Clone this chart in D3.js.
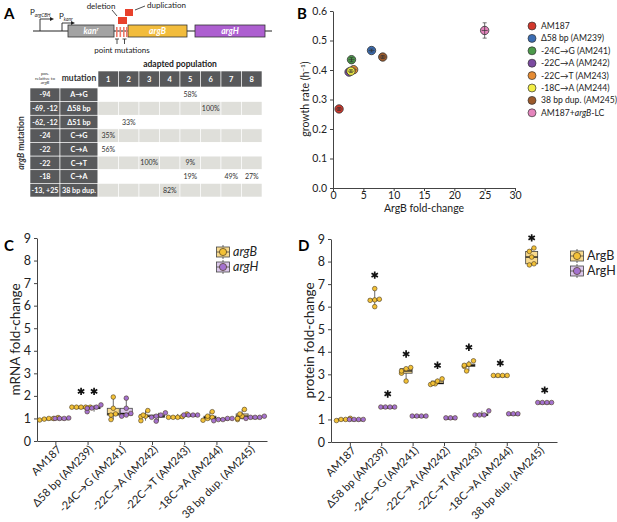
<!DOCTYPE html>
<html><head><meta charset="utf-8">
<script src="https://cdn.jsdelivr.net/npm/d3@7"></script>
<style>body{margin:0;background:#fff} svg{font-family:Lato,"Open Sans",sans-serif}</style>
</head><body><svg id="fig" width="617" height="522"></svg>
<script>
// ---------- DATA ----------
// Panel A table
const tablePositions = ["-94", "-69, -12", "-62, -12", "-24", "-22", "-22", "-18", "-13, +25"];
const tableMutations = ["A→G", "Δ58 bp", "Δ51 bp", "C→G", "C→A", "C→T", "C→A", "38 bp dup."];
const tablePopulations = ["1", "2", "3", "4", "5", "6", "7", "8"];
const tableFreqs = [
  [null, null, null, null, "58%", null, null, null],
  [null, null, null, null, null, "100%", null, null],
  [null, "33%", null, null, null, null, null, null],
  ["35%", null, null, null, null, null, null, null],
  ["56%", null, null, null, null, null, null, null],
  [null, null, "100%", null, "9%", null, null, null],
  [null, null, null, null, "19%", null, "49%", "27%"],
  [null, null, null, "82%", null, null, null, null]
];
// Panel B
const strainNames = ["AM187", "Δ58 bp (AM239)", "-24C→G (AM241)", "-22C→A (AM242)", "-22C→T (AM243)", "-18C→A (AM244)", "38 bp dup. (AM245)", "AM187+argB-LC"];
const strainColors = ["#d2382c", "#3b6db3", "#4c9a4a", "#7b4aa0", "#e58b33", "#f2ee45", "#9c5a2b", "#e585bd"];
const argBFold = [1.0, 6.35, 3.05, 2.65, 3.4, 2.95, 8.2, 25.0];
const growthRate = [0.268, 0.466, 0.435, 0.393, 0.401, 0.396, 0.444, 0.534];
const growthErr = [0.005, 0.005, 0.007, 0.005, 0.005, 0.005, 0.005, 0.026];
const xTicksB = [0, 5, 10, 15, 20, 25, 30];
const yTicksB = [0, 0.1, 0.2, 0.3, 0.4, 0.5, 0.6];
// Panels C and D
const categories = ["AM187", "Δ58 bp (AM239)", "-24C→G (AM241)", "-22C→A (AM242)", "-22C→T (AM243)", "-18C→A (AM244)", "38 bp dup. (AM245)"];
const foldTicks = [0, 1, 2, 3, 4, 5, 6, 7, 8, 9];
const mrnaArgB = [
  [0.93, 0.97, 1.0, 1.0, 1.04],
  [1.5, 1.5, 1.5, 1.5, 1.5],
  [0.95, 1.15, 1.2, 1.45, 1.95],
  [0.9, 1.08, 1.1, 1.15, 1.35],
  [1.05, 1.05, 1.05, 1.08, 1.2],
  [0.92, 1.0, 1.05, 1.1, 1.3],
  [0.95, 1.0, 1.1, 1.2, 1.4]
];
const mrnaArgH = [
  [1.0, 1.0, 1.0, 1.02],
  [1.3, 1.45, 1.46, 1.5, 1.6],
  [1.1, 1.15, 1.22, 1.45, 1.9],
  [0.88, 1.05, 1.1, 1.15, 1.25],
  [1.15, 1.15, 1.15, 1.15],
  [0.9, 0.95, 0.95, 1.0, 1.0],
  [1.0, 1.05, 1.05, 1.05, 1.1]
];
const mrnaStarB = [null, 2.2, null, null, null, null, null];
const mrnaStarH = [null, 2.2, null, null, null, null, null];
const protArgB = [
  [0.95, 1.0, 1.0, 1.05],
  [6.0, 6.28, 6.3, 6.33, 6.8],
  [2.7, 3.05, 3.15, 3.25, 3.3],
  [2.55, 2.58, 2.6, 2.7, 2.8],
  [3.15, 3.35, 3.4, 3.45, 3.6],
  [2.95, 2.95, 2.95, 2.95],
  [7.85, 7.9, 8.2, 8.45, 8.6]
];
const protArgH = [
  [1.0, 1.0, 1.0, 1.0],
  [1.55, 1.55, 1.55, 1.55],
  [1.15, 1.15, 1.15, 1.15],
  [1.07, 1.07, 1.07],
  [1.2, 1.2, 1.2, 1.38],
  [1.25, 1.25, 1.25],
  [1.75, 1.75, 1.75, 1.75]
];
const protStarB = [null, 7.4, 3.9, 3.4, 4.2, 3.5, 9.05];
const protStarH = [null, 2.13, null, null, null, null, 2.3];

// ---------- STYLE ----------
const C_B = {pt: "#f3c137", box: "#f8da8e"};
const C_H = {pt: "#a472cf", box: "#dcc8ec"};
const axisCol = "#444";
const FONT = 'Lato,"Open Sans",sans-serif';

const svg = d3.select("#fig");

function panelLabel(t, x, y) {
  svg.append("text").attr("x", x).attr("y", y).attr("font-size", 15).attr("font-weight", 700).text(t);
}
panelLabel("A", 4, 19);
panelLabel("B", 297, 19);
panelLabel("C", 4, 251);
panelLabel("D", 298, 251);

// ---------- PANEL A: schematic ----------
const gA = svg.append("g");
gA.append("line").attr("x1", 33).attr("x2", 272).attr("y1", 31).attr("y2", 31).attr("stroke", "#222").attr("stroke-width", 1);
function promoter(x, top, len, tx, ty, lab, sub) {
  gA.append("path").attr("d", `M${x},31V${top}H${x + len}`).attr("fill", "none").attr("stroke", "#222").attr("stroke-width", 0.9);
  gA.append("path").attr("d", `M${x + len},${top - 2}L${x + len + 4},${top}L${x + len},${top + 2}Z`).attr("fill", "#222");
  const t = gA.append("text").attr("x", tx).attr("y", ty).attr("font-size", 8).attr("fill", "#222");
  t.append("tspan").text(lab);
  t.append("tspan").attr("font-size", 4.8).attr("dy", 1.5).attr("font-style", "italic").text(sub);
}
promoter(40, 19, 10, 30, 15, "P", "argCBH");
promoter(62, 23, 9, 59, 19, "P", "kanr");
function gene(x1, x2, fill, label, sup) {
  gA.append("rect").attr("x", x1).attr("y", 25).attr("width", x2 - x1).attr("height", 12).attr("fill", fill).attr("stroke", "#333").attr("stroke-width", 0.8);
  const t = gA.append("text").attr("x", (x1 + x2) / 2).attr("y", 34).attr("text-anchor", "middle").attr("font-size", 8.5).attr("font-style", "italic").attr("font-weight", 700).attr("fill", "#fff");
  t.append("tspan").text(label);
  if (sup) t.append("tspan").attr("font-size", 5).attr("dy", -3).text(sup);
}
gene(68, 114, "#a3a3a3", "kan", "r");
gene(128, 187, "#f2bc3c", "argB");
gene(195, 265, "#ad5fd0", "argH");
[116, 119.5, 123, 126].forEach(x => gA.append("rect").attr("x", x).attr("y", 27).attr("width", 1.6).attr("height", 10).attr("fill", "#ef7a6a"));
gA.append("rect").attr("x", 118).attr("y", 17).attr("width", 9).attr("height", 7).attr("fill", "#e8412c");
gA.append("rect").attr("x", 125).attr("y", 9).attr("width", 8).attr("height", 7).attr("fill", "#e8412c");
[117, 124.5].forEach(x => gA.append("path").attr("d", `M${x - 2},39H${x + 2}M${x},39V44`).attr("stroke", "#222").attr("stroke-width", 0.8));
gA.append("text").attr("x", 122).attr("y", 53).attr("text-anchor", "middle").attr("font-size", 8).attr("fill", "#222").text("point mutations");
gA.append("text").attr("x", 101).attr("y", 9).attr("text-anchor", "middle").attr("font-size", 8).attr("fill", "#222").text("deletion");
gA.append("path").attr("d", "M112,10L117,16").attr("stroke", "#222").attr("stroke-width", 0.8);
gA.append("text").attr("x", 147).attr("y", 8).attr("font-size", 8).attr("fill", "#222").text("duplication");
gA.append("path").attr("d", "M145,6L135,10").attr("stroke", "#222").attr("stroke-width", 0.8);

// ---------- PANEL A: table ----------
const colX = d3.scaleBand().domain(tablePopulations).range([98, 262]);
const rowY = d3.scaleBand().domain(d3.range(tablePositions.length)).range([88, 197]);
const gT = svg.append("g");
gT.append("text").attr("x", 180).attr("y", 67).attr("text-anchor", "middle").attr("font-size", 8.5).attr("font-weight", 700).attr("fill", "#222").text("adapted population");
tablePopulations.forEach(p => {
  gT.append("rect").attr("x", colX(p)).attr("y", 71).attr("width", colX.bandwidth()).attr("height", 16).attr("fill", "#58595b").attr("stroke", "#fff").attr("stroke-width", 0.6);
  gT.append("text").attr("x", colX(p) + colX.bandwidth() / 2).attr("y", 82).attr("text-anchor", "middle").attr("font-size", 7.5).attr("font-weight", 700).attr("fill", "#fff").text(p);
});
const hp = gT.append("text").attr("x", 45).attr("y", 75).attr("text-anchor", "middle").attr("font-size", 4.5).attr("fill", "#333");
hp.append("tspan").attr("x", 45).attr("dy", 0).text("pos.");
hp.append("tspan").attr("x", 45).attr("dy", 4.5).text("relative to");
hp.append("tspan").attr("x", 45).attr("dy", 4.5).attr("font-style", "italic").text("argB");
gT.append("text").attr("x", 79).attr("y", 81).attr("text-anchor", "middle").attr("font-size", 8.5).attr("font-weight", 700).attr("fill", "#333").text("mutation");
tablePositions.forEach((pos, i) => {
  const y = rowY(i), h = rowY.bandwidth();
  gT.append("rect").attr("x", 30).attr("y", y).attr("width", 30).attr("height", h).attr("fill", "#58595b").attr("stroke", "#fff").attr("stroke-width", 0.6);
  gT.append("rect").attr("x", 60).attr("y", y).attr("width", 38).attr("height", h).attr("fill", "#58595b").attr("stroke", "#fff").attr("stroke-width", 0.6);
  gT.append("text").attr("x", 45).attr("y", y + h / 2 + 2.6).attr("text-anchor", "middle").attr("font-size", 7.2).attr("font-weight", 700).attr("fill", "#fff").text(pos);
  gT.append("text").attr("x", 79).attr("y", y + h / 2 + 2.6).attr("text-anchor", "middle").attr("font-size", 7.2).attr("font-weight", 700).attr("fill", "#fff").text(tableMutations[i]);
  tablePopulations.forEach((p, j) => {
    gT.append("rect").attr("x", colX(p)).attr("y", y).attr("width", colX.bandwidth()).attr("height", h).attr("fill", i % 2 ? "#dfdfda" : "#fff").attr("stroke", "#fff").attr("stroke-width", 0.6);
    const v = tableFreqs[i][j];
    if (v) gT.append("text").attr("x", colX(p) + colX.bandwidth() / 2).attr("y", y + h / 2 + 2.5).attr("text-anchor", "middle").attr("font-size", 7).attr("fill", "#333").text(v);
  });
});
const ml = gT.append("text").attr("transform", "translate(24,143) rotate(-90)").attr("text-anchor", "middle").attr("font-size", 8.5).attr("font-weight", 700).attr("fill", "#333");
ml.append("tspan").attr("font-style", "italic").text("argB");
ml.append("tspan").text(" mutation");

// ---------- PANEL B ----------
const xB = d3.scaleLinear().domain([0, 30]).range([333, 515]);
const yB = d3.scaleLinear().domain([0, 0.6]).range([188, 11]);
const gB = svg.append("g");
function styleAxis(g, fs) {
  g.select(".domain").attr("stroke", axisCol);
  g.selectAll(".tick line").attr("stroke", axisCol);
  g.selectAll("text").attr("font-size", fs).attr("fill", "#222").attr("font-family", FONT);
}
gB.append("g").attr("transform", "translate(0,188)").call(d3.axisBottom(xB).tickValues(xTicksB).tickSize(3).tickSizeOuter(0)).call(g => styleAxis(g, 10.5)).selectAll("text").attr("y", 4);
gB.append("g").attr("transform", "translate(333,0)").call(d3.axisLeft(yB).tickValues(yTicksB).tickFormat(d3.format(".1f")).tickSize(3).tickSizeOuter(0)).call(g => styleAxis(g, 10.5));
gB.append("text").attr("x", 424).attr("y", 212).attr("text-anchor", "middle").attr("font-size", 10.5).attr("fill", "#222").text("ArgB fold-change");
const yl = gB.append("text").attr("transform", "translate(309,99) rotate(-90)").attr("text-anchor", "middle").attr("font-size", 10.5).attr("fill", "#222");
yl.append("tspan").text("growth rate (h");
yl.append("tspan").attr("font-size", 6.5).attr("dy", -4).text("−1");
yl.append("tspan").attr("dy", 4).text(")");
strainNames.forEach((n, i) => {
  const cx = xB(argBFold[i]), cy = yB(growthRate[i]);
  gB.append("circle").attr("cx", cx).attr("cy", cy).attr("r", 4.2).attr("fill", strainColors[i]).attr("stroke", "#333").attr("stroke-width", 0.8);
  const e1 = yB(growthRate[i] - growthErr[i]), e2 = yB(growthRate[i] + growthErr[i]);
  gB.append("path").attr("d", `M${cx},${e1}V${e2}M${cx - 2},${e1}H${cx + 2}M${cx - 2},${e2}H${cx + 2}M${cx - 3},${cy}H${cx + 3}`).attr("stroke", "#333").attr("stroke-width", 0.7).attr("fill", "none");
});
strainNames.forEach((n, i) => {
  const y = 26 + i * 12.4;
  gB.append("circle").attr("cx", 532).attr("cy", y).attr("r", 4).attr("fill", strainColors[i]).attr("stroke", "#333").attr("stroke-width", 0.7);
  const t = gB.append("text").attr("x", 541).attr("y", y + 3).attr("font-size", 8.6).attr("fill", "#222");
  if (n.includes("argB-LC")) {
    t.append("tspan").text("AM187+");
    t.append("tspan").attr("font-style", "italic").text("argB");
    t.append("tspan").text("-LC");
  } else t.text(n);
});

// ---------- PANELS C & D ----------
function swarm(vals, y, r) {
  const placed = [];
  return vals.slice().sort((a, b) => a - b).map(v => {
    const py = y(v);
    let best = 0;
    const near = placed.filter(p => Math.abs(p.py - py) < 2 * r);
    if (near.length) {
      const n = near.length + 1;
      near.forEach((p, idx) => p.dx = (idx - (n - 1) / 2) * 2 * r);
      best = ((n - 1) - (n - 1) / 2) * 2 * r;
    }
    const o = {v, py, dx: best};
    placed.push(o);
    return o;
  });
}
function boxPanel(cfg) {
  const g = svg.append("g");
  const x = d3.scalePoint().domain(categories).range(cfg.xr).padding(cfg.pad);
  const y = d3.scaleLinear().domain([0, 9]).range(cfg.yr);
  g.append("g").attr("transform", `translate(0,${cfg.yr[0]})`).call(d3.axisBottom(x).tickSize(4).tickSizeOuter(0)).call(a => styleAxis(a, 11))
    .selectAll("text").attr("text-anchor", "end").attr("transform", "rotate(-45)").attr("dx", "-0.2em").attr("dy", "0.35em");
  g.append("g").attr("transform", `translate(${cfg.xr[0]},0)`).call(d3.axisLeft(y).tickValues(foldTicks).tickSize(3).tickSizeOuter(0)).call(a => styleAxis(a, 12.5));
  g.append("text").attr("transform", `translate(${cfg.ylx},${(cfg.yr[0] + cfg.yr[1]) / 2}) rotate(-90)`).attr("text-anchor", "middle").attr("font-size", 13.5).attr("fill", "#222").text(cfg.ylabel);
  const series = [{vals: cfg.b, col: C_B, off: -6.5, star: cfg.sb}, {vals: cfg.h, col: C_H, off: 6.5, star: cfg.sh}];
  series.forEach(s => {
    categories.forEach((c, i) => {
      const vals = s.vals[i].slice().sort(d3.ascending);
      const cx = x(c) + s.off;
      const q1 = d3.quantile(vals, 0.25), q2 = d3.quantile(vals, 0.5), q3 = d3.quantile(vals, 0.75);
      const w = 12;
      g.append("line").attr("x1", cx).attr("x2", cx).attr("y1", y(vals[0])).attr("y2", y(vals[vals.length - 1])).attr("stroke", "#444").attr("stroke-width", 0.8);
      g.append("rect").attr("x", cx - w / 2).attr("y", y(q3)).attr("width", w).attr("height", Math.max(1.5, y(q1) - y(q3))).attr("fill", s.col.box).attr("stroke", "#444").attr("stroke-width", 0.8);
      g.append("line").attr("x1", cx - w / 2).attr("x2", cx + w / 2).attr("y1", y(q2)).attr("y2", y(q2)).attr("stroke", "#111").attr("stroke-width", 1.3);
      swarm(vals, y, 2.3).forEach(p => {
        g.append("circle").attr("cx", cx + p.dx).attr("cy", p.py).attr("r", 2.3).attr("fill", s.col.pt).attr("stroke", "#4a3a20").attr("stroke-width", 0.6);
      });
      if (s.star[i] != null) {
        g.append("path").attr("d", d3.symbol(d3.symbolAsterisk, 38)()).attr("transform", `translate(${cx},${y(s.star[i])})`).attr("fill", "none").attr("stroke", "#111").attr("stroke-width", 1.7);
      }
    });
  });
  cfg.leg.forEach((lab, i) => {
    const col = i ? C_H : C_B;
    const lx = cfg.lx, ly = cfg.ly + i * 15;
    g.append("line").attr("x1", lx).attr("x2", lx).attr("y1", ly - 7).attr("y2", ly + 7).attr("stroke", "#444").attr("stroke-width", 0.8);
    g.append("rect").attr("x", lx - 6.5).attr("y", ly - 5).attr("width", 13).attr("height", 10).attr("fill", col.box).attr("stroke", "#444").attr("stroke-width", 0.8);
    g.append("line").attr("x1", lx - 6.5).attr("x2", lx + 6.5).attr("y1", ly).attr("y2", ly).attr("stroke", "#444").attr("stroke-width", 0.8);
    g.append("circle").attr("cx", lx).attr("cy", ly).attr("r", 3.6).attr("fill", col.pt).attr("stroke", "#4a3a20").attr("stroke-width", 0.7);
    g.append("text").attr("x", lx + 10).attr("y", ly + 4).attr("font-size", 12.5).attr("font-style", cfg.italic ? "italic" : "normal").attr("fill", "#222").text(lab);
  });
}
boxPanel({xr: [37, 267], pad: 0.57, yr: [441, 238], ylx: 20, ylabel: "mRNA fold-change", b: mrnaArgB, h: mrnaArgH, sb: mrnaStarB, sh: mrnaStarH, leg: ["argB", "argH"], italic: true, lx: 223, ly: 252});
boxPanel({xr: [331, 557], pad: 0.6, yr: [442, 239], ylx: 314, ylabel: "protein fold-change", b: protArgB, h: protArgH, sb: protStarB, sh: protStarH, leg: ["ArgB", "ArgH"], italic: false, lx: 577, ly: 256});
</script></body></html>
